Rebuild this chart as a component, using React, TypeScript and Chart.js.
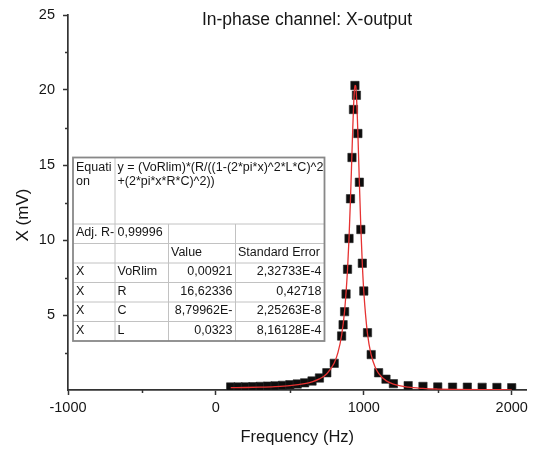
import { useEffect, useRef } from 'react';
import { Chart, registerables } from 'chart.js';

Chart.register(...registerables);

// ---------- texts ----------
const chartTitle = 'In-phase channel: X-output';
const xAxisTitle = 'Frequency (Hz)';
const yAxisTitle = 'X (mV)';

// ---------- ticks ----------
const xTicks = [-1000, 0, 1000, 2000];
const xMinorTicks = [-500, 500, 1500];
const yTicks = [5, 10, 15, 20, 25];
const yMinorTicks = [2.5, 7.5, 12.5, 17.5, 22.5];

// ---------- measured points (black squares) ----------
const measuredFreq = [
  100, 150, 200, 250, 300, 350, 400, 450, 500, 550, 600, 650, 700, 750, 800,
  850, 860, 870, 880, 890, 900, 910, 920, 930, 940, 950, 960, 970, 980, 990, 1000,
  1025, 1050, 1100, 1150, 1200, 1300, 1400, 1500, 1600, 1700, 1800, 1900, 2000,
];
const measuredX = [
  0.2, 0.2, 0.21, 0.22, 0.24, 0.26, 0.28, 0.31, 0.35, 0.4, 0.48, 0.6, 0.8, 1.15, 1.78,
  3.6, 4.35, 5.22, 6.4, 8.05, 10.1, 12.75, 15.5, 18.7, 20.3, 19.65, 17.1, 13.85, 10.7, 8.45, 6.6,
  3.82, 2.36, 1.15, 0.72, 0.42, 0.29, 0.24, 0.2, 0.19, 0.19, 0.18, 0.17, 0.15,
];

// ---------- fitted curve (red line) ----------
const fitFreq = [
  100, 200, 300, 400, 500, 600, 650, 700, 750, 800, 825, 850, 870, 890, 900, 910, 920,
  925, 930, 935, 940, 945, 950, 955, 960, 970, 980, 990, 1000, 1025, 1050, 1075, 1100,
  1150, 1200, 1300, 1400, 1500, 1600, 1800, 2000,
];
const fitX = [
  0.157, 0.168, 0.189, 0.227, 0.295, 0.427, 0.546, 0.74, 1.087, 1.8, 2.49, 3.65, 5.26, 8.03, 10.11, 12.75, 15.82,
  17.35, 18.72, 19.76, 20.31, 20.28, 19.66, 18.55, 17.1, 13.84, 10.82, 8.39, 6.55, 3.74, 2.34, 1.565, 1.108,
  0.624, 0.391, 0.187, 0.105, 0.065, 0.043, 0.022, 0.0125,
];

// ---------- fit results table ----------
const tableEquationLabel = ['Equati', 'on'];
const tableEquation = ['y = (VoRlim)*(R/((1-(2*pi*x)^2*L*C)^2', '+(2*pi*x*R*C)^2))'];
const tableRows = [
  ['Adj. R-', '0,99996', '', ''],
  ['', '', 'Value', 'Standard Error'],
  ['X', 'VoRlim', '0,00921', '2,32733E-4'],
  ['X', 'R', '16,62336', '0,42718'],
  ['X', 'C', '8,79962E-', '2,25263E-8'],
  ['X', 'L', '0,0323', '8,16128E-4'],
];

const FONT = '"Liberation Sans", Arial, Helvetica, sans-serif';
const TEXT = '#161616';
const AXIS = '#333333';

export default function App() {
  const ref = useRef<HTMLCanvasElement>(null);

  useEffect(() => {
    document.body.style.margin = '0';
    const canvas = ref.current;
    if (!canvas) return;

    const extras = {
      id: 'extras',
      afterDraw(chart: any) {
        const c = chart.ctx as CanvasRenderingContext2D;
        const xs = chart.scales.x;
        const ys = chart.scales.y;
        const area = chart.chartArea;
        c.save();

        // minor ticks
        c.strokeStyle = AXIS;
        c.lineWidth = 1.5;
        xMinorTicks.forEach((v) => {
          const px = Math.round(xs.getPixelForValue(v)) + 0.5;
          c.beginPath();
          c.moveTo(px, area.bottom);
          c.lineTo(px, area.bottom + 3);
          c.stroke();
        });
        yMinorTicks.forEach((v) => {
          const py = Math.round(ys.getPixelForValue(v)) + 0.5;
          c.beginPath();
          c.moveTo(area.left, py);
          c.lineTo(area.left - 3, py);
          c.stroke();
        });

        // main title
        c.fillStyle = TEXT;
        c.font = `17.5px ${FONT}`;
        c.textAlign = 'center';
        c.textBaseline = 'alphabetic';
        c.fillText(chartTitle, 307, 24.5);

        // y axis title
        c.save();
        c.translate(23, 215);
        c.rotate(-Math.PI / 2);
        c.font = `17px ${FONT}`;
        c.textBaseline = 'middle';
        c.fillText(yAxisTitle, 0, 0);
        c.restore();

        // table
        const cols = [73, 115, 168.5, 235.5, 324.5];
        const rows = [157.5, 224, 243.5, 263, 282.5, 302, 321.5, 341];
        const L = cols[0], R = cols[4], T = rows[0], B = rows[7];
        c.fillStyle = '#fff';
        c.fillRect(L, T, R - L, B - T);

        c.strokeStyle = '#c2c2c2';
        c.lineWidth = 1;
        for (let i = 1; i < rows.length - 1; i++) {
          c.beginPath();
          c.moveTo(L, rows[i]);
          c.lineTo(R, rows[i]);
          c.stroke();
        }
        c.beginPath();
        c.moveTo(cols[1], T);
        c.lineTo(cols[1], B);
        c.stroke();
        [cols[2], cols[3]].forEach((x) => {
          c.beginPath();
          c.moveTo(x, rows[1]);
          c.lineTo(x, B);
          c.stroke();
        });
        c.strokeStyle = '#888888';
        c.lineWidth = 1.8;
        c.strokeRect(L, T, R - L, B - T);

        c.fillStyle = TEXT;
        c.font = `12.5px ${FONT}`;
        c.textBaseline = 'alphabetic';
        c.textAlign = 'left';
        const clipCell = (x0: number, y0: number, x1: number, y1: number, fn: () => void) => {
          c.save();
          c.beginPath();
          c.rect(x0, y0, x1 - x0, y1 - y0);
          c.clip();
          fn();
          c.restore();
        };
        clipCell(cols[0], T, cols[1], rows[1], () => {
          tableEquationLabel.forEach((t, i) => c.fillText(t, cols[0] + 3, 170.5 + i * 14));
        });
        clipCell(cols[1], T, R - 1, rows[1], () => {
          tableEquation.forEach((t, i) => c.fillText(t, cols[1] + 2.5, 170.5 + i * 14));
        });

        c.textBaseline = 'middle';
        tableRows.forEach((row, r) => {
          const y0 = rows[r + 1];
          const y1 = rows[r + 2];
          const cy = (y0 + y1) / 2 - 1;
          row.forEach((txt, k) => {
            if (!txt) return;
            const x0 = cols[k];
            const x1 = cols[k + 1];
            const rightAligned = r >= 2 && k >= 2;
            clipCell(x0, y0, x1 - 0.5, y1, () => {
              if (rightAligned) {
                c.textAlign = 'right';
                c.fillText(txt, x1 - 3, cy);
              } else {
                c.textAlign = 'left';
                c.fillText(txt, x0 + (k === 0 ? 3 : 2.5), cy);
              }
            });
          });
        });

        c.restore();
      },
    };

    const chart = new Chart(canvas, {
      type: 'scatter',
      data: {
        datasets: [
          {
            label: 'fit',
            data: fitFreq.map((f, i) => ({ x: f, y: fitX[i] })),
            showLine: true,
            borderColor: 'rgb(230,50,50)',
            borderWidth: 1.3,
            pointRadius: 0,
            cubicInterpolationMode: 'monotone',
            fill: false,
            order: 0,
          } as any,
          {
            label: 'X',
            data: measuredFreq.map((f, i) => ({ x: f, y: measuredX[i] })),
            pointStyle: 'rect',
            pointRadius: 5.9,
            backgroundColor: '#0d0d0d',
            borderColor: '#2a2a2a',
            borderWidth: 0.6,
            order: 1,
          } as any,
        ],
      },
      options: {
        responsive: false,
        animation: false,
        devicePixelRatio: 1,
        layout: { padding: { left: 0, right: 2, top: 15, bottom: 0 } },
        plugins: {
          legend: { display: false },
          tooltip: { enabled: false },
          title: { display: false },
        },
        scales: {
          x: {
            type: 'linear',
            position: 'bottom',
            min: -1000,
            max: 2100,
            afterBuildTicks: (scale: any) => {
              scale.ticks = xTicks.map((v) => ({ value: v }));
            },
            afterFit: (scale: any) => {
              scale.height = 61;
              scale.paddingLeft = 0;
              scale.paddingRight = 0;
            },
            ticks: {
              autoSkip: false,
              maxRotation: 0,
              padding: 4,
              color: TEXT,
              font: { family: FONT, size: 14.5 },
              callback: (v: any) => String(v),
            },
            grid: {
              display: true,
              drawOnChartArea: false,
              drawTicks: true,
              tickLength: 5,
              tickColor: AXIS,
              tickWidth: 1.5,
            },
            border: { display: true, color: AXIS, width: 1.7 },
            title: {
              display: true,
              text: xAxisTitle,
              color: TEXT,
              font: { family: FONT, size: 16.5 },
              padding: { top: 0, bottom: 4 },
            },
          },
          y: {
            type: 'linear',
            min: 0,
            max: 25,
            afterBuildTicks: (scale: any) => {
              scale.ticks = yTicks.map((v) => ({ value: v }));
            },
            afterFit: (scale: any) => {
              scale.width = 68;
              scale.paddingTop = 0;
              scale.paddingBottom = 0;
            },
            ticks: {
              autoSkip: false,
              padding: 8,
              color: TEXT,
              font: { family: FONT, size: 14.5 },
              callback: (v: any) => String(v),
            },
            grid: {
              display: true,
              drawOnChartArea: false,
              drawTicks: true,
              tickLength: 5,
              tickColor: AXIS,
              tickWidth: 1.5,
            },
            border: { display: true, color: AXIS, width: 1.7 },
          },
        },
      },
      plugins: [extras],
    } as any);

    return () => chart.destroy();
  }, []);

  return (
    <div style={{ position: 'absolute', left: 0, top: 0, width: 533, height: 451, background: '#fff' }}>
      <canvas ref={ref} width={533} height={451} style={{ display: 'block', width: 533, height: 451 }} />
    </div>
  );
}
